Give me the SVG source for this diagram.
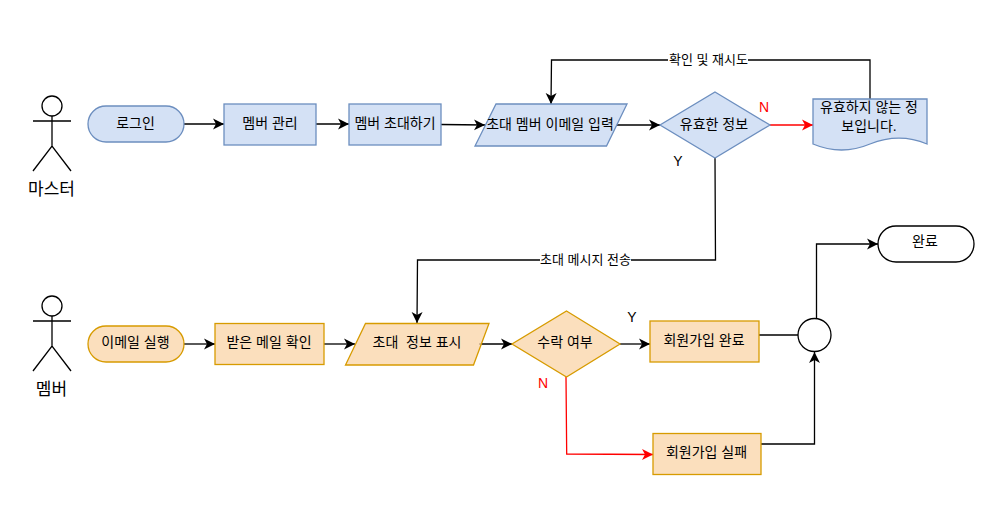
<svg xmlns="http://www.w3.org/2000/svg" width="997" height="518" viewBox="0 0 997 518">
<style>
text{font-family:"Liberation Sans","Noto Sans CJK KR",sans-serif;font-size:14px;fill:#000;text-anchor:middle;white-space:pre}
.b{fill:#d4e1f5;stroke:#6c8ebf;stroke-width:1.3}
.o{fill:#fad7ac;stroke:#d79b00;stroke-width:1.3;fill-opacity:.8}
.w{fill:#fff;stroke:#000;stroke-width:1.3}
.a{fill:none;stroke:#000;stroke-width:1.3}
.c{fill:none;stroke:#000;stroke-width:1.3;marker-end:url(#k)}
.r{fill:none;stroke:#f00;stroke-width:1.3;marker-end:url(#m)}
.lb{fill:#fff;stroke:none}
.big{font-size:17px}
.s{font-size:13px}
.red{fill:#f00}
</style>
<defs>
<marker id="k" markerUnits="userSpaceOnUse" markerWidth="12" markerHeight="12" refX="11" refY="6" orient="auto"><path d="M0 0.500L11 6L0 11.500L3 6Z" fill="#000"/></marker>
<marker id="m" markerUnits="userSpaceOnUse" markerWidth="12" markerHeight="12" refX="11" refY="6" orient="auto"><path d="M0 0.500L11 6L0 11.500L3 6Z" fill="#f00"/></marker>
</defs>
<g id="connectors">
<path class="c" d="M184 124H224"/>
<path class="c" d="M316 124H349"/>
<path class="c" d="M441 124.500L485 125"/>
<path class="c" d="M616 125H660"/>
<path class="r" d="M770 125H813"/>
<path class="c" d="M870 99V60H551.500L551 104"/>
<path class="c" d="M715 158L715.500 260H417.500L417 323"/>
<path class="c" d="M184 344H215"/>
<path class="c" d="M324 344H355"/>
<path class="c" d="M479 344H512"/>
<path class="c" d="M620 344H650"/>
<path class="r" d="M566 377L566.700 454L653 454.500"/>
<path class="a" d="M759 335H798"/>
<path class="c" d="M761 444H814.500V352"/>
<path class="c" d="M816.500 319V244H878"/>
<rect class="lb" x="668" y="53" width="80" height="14"/>
<text class="s" x="708.500" y="64">확인 및 재시도</text>
<rect class="lb" x="540" y="253" width="91" height="14"/>
<text class="s" x="585.500" y="264">초대 메시지 전송</text>
</g>
<g id="actor-master">
<circle class="w" cx="52" cy="106" r="10"/>
<path class="a" d="M52 116V146M33 121H71M33 171L52 146L71 171"/>
<text class="big" x="51.500" y="195">마스터</text>
</g>
<g id="login"><rect class="b" x="88" y="106" width="96" height="36" rx="18"/><text x="135.500" y="128">로그인</text></g>
<g id="member-manage"><rect class="b" x="224" y="104" width="92" height="41"/><text x="270" y="128">멤버 관리</text></g>
<g id="member-invite"><rect class="b" x="349" y="104" width="92" height="41"/><text x="395" y="128">멤버 초대하기</text></g>
<g id="email-input"><path class="b" d="M496 104H627L606.500 146H475Z"/><text x="550" y="129">초대 멤버 이메일 입력</text></g>
<g id="valid"><path class="b" d="M715 92L770 125L715 158L660 125Z"/><text x="714" y="129">유효한 정보</text></g>
<g id="invalid-doc"><path class="b" d="M813 99H927V144C908 136 890 136 870 144C851 152 832 152 813 144Z"/><text x="869" y="112">유효하지 않는 정</text><text x="869" y="131">보입니다.</text></g>
<text x="764" y="112" class="red">N</text>
<text x="678" y="166">Y</text>
<g id="actor-member">
<circle class="w" cx="52" cy="306" r="10"/>
<path class="a" d="M52 316V346M33 321H71M33 371L52 346L71 371"/>
<text class="big" x="51.500" y="395">멤버</text>
</g>
<g id="email-run"><rect class="o" x="88" y="326" width="96" height="36" rx="18"/><text x="135.500" y="347">이메일 실행</text></g>
<g id="mail-check"><rect class="o" x="215" y="323.500" width="109" height="41"/><text x="269" y="347">받은 메일 확인</text></g>
<g id="invite-info"><path class="o" d="M365.500 323.500H489L473.500 365H345.500Z"/><text x="417" y="347">초대  정보 표시</text></g>
<g id="accept"><path class="o" d="M566.500 311L620 344L566.500 377L512 344Z"/><text x="565" y="347">수락 여부</text></g>
<g id="signup-ok"><rect class="o" x="650" y="321" width="109" height="41"/><text x="704" y="345">회원가입 완료</text></g>
<g id="signup-fail"><rect class="o" x="653" y="433.500" width="108" height="41"/><text x="706.500" y="457">회원가입 실패</text></g>
<text x="632" y="322">Y</text>
<text x="543" y="388" class="red">N</text>
<g id="merge"><circle class="w" cx="814.500" cy="335" r="16.500"/></g>
<g id="done"><rect class="w" x="878" y="226" width="96" height="36" rx="18"/><text x="925" y="246">완료</text></g>
</svg>
